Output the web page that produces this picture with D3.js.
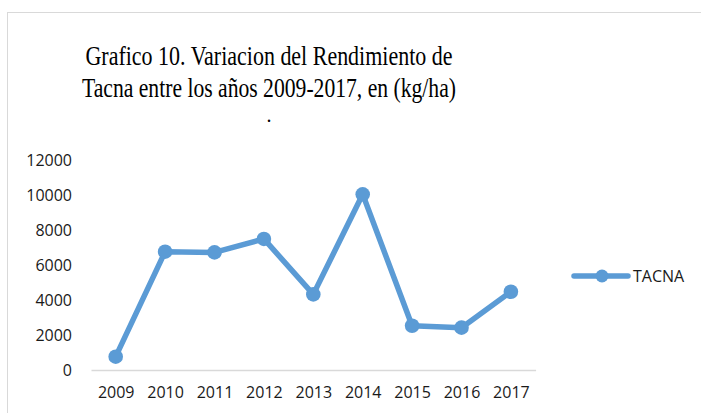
<!DOCTYPE html>
<html><head><meta charset="utf-8">
<script src="https://cdn.jsdelivr.net/npm/d3@7"></script>
<style>body{margin:0;background:#fff}svg{display:block}</style>
</head><body>
<svg id="c" width="701" height="413"></svg>
<script>
const years = ["2009","2010","2011","2012","2013","2014","2015","2016","2017"];
const tacna = [760, 6760, 6720, 7490, 4320, 10040, 2530, 2420, 4470];
const yTicks = [0, 2000, 4000, 6000, 8000, 10000, 12000];
const seriesName = "TACNA";
const titleLines = ["Grafico 10. Variacion del Rendimiento de", "Tacna entre los años 2009-2017, en (kg/ha)", "."];

const svg = d3.select("#c");
const color = "#5B9BD5";
const labelFont = "'Open Sans', sans-serif";

svg.append("rect").attr("x",7.5).attr("y",12.5).attr("width",720).attr("height",420)
  .attr("fill","#fff").attr("stroke","#d9d9d9").attr("stroke-width",1);

const titleY = [65, 97, 122];
const titleW = [367, 374, null];
const titleSize = [27, 27, 20];
titleLines.forEach((t,i)=>{
  const el = svg.append("text").attr("x",269).attr("y",titleY[i]).attr("text-anchor","middle")
    .attr("font-family","'Liberation Serif','Times New Roman',serif").attr("font-size",titleSize[i])
    .attr("fill","#000").text(t);
  if (titleW[i]) el.attr("textLength",titleW[i]).attr("lengthAdjust","spacingAndGlyphs");
});

const x = d3.scalePoint().domain(years).range([91,535.6]).padding(0.5);
const y = d3.scaleLinear().domain([0,12000]).range([370,160]);

// x axis
const xa = svg.append("g").attr("transform","translate(0,370)")
  .call(d3.axisBottom(x).tickSize(0).tickPadding(17));
xa.select(".domain").attr("stroke","#d9d9d9").attr("stroke-width",1.3);
xa.selectAll("text").attr("font-family",labelFont).attr("font-size",16).attr("fill","#1a1a1a");

// y axis (labels only)
const ya = svg.append("g").attr("transform","translate(72,0)")
  .call(d3.axisLeft(y).tickValues(yTicks).tickSize(0).tickPadding(0).tickFormat(d3.format("d")));
ya.select(".domain").remove();
ya.selectAll("text").attr("font-family",labelFont).attr("font-size",16).attr("fill","#1a1a1a");

const data = years.map((yr,i)=>({yr, v:tacna[i]}));
svg.append("path").datum(data)
  .attr("d", d3.line().x(d=>x(d.yr)).y(d=>y(d.v)))
  .attr("fill","none").attr("stroke",color).attr("stroke-width",5.5)
  .attr("stroke-linejoin","round").attr("stroke-linecap","round");
svg.selectAll("circle.pt").data(data).join("circle").attr("class","pt")
  .attr("cx",d=>x(d.yr)).attr("cy",d=>y(d.v)).attr("r",7.3).attr("fill",color);

// legend
const lg = svg.append("g");
lg.append("line").attr("x1",574).attr("x2",628).attr("y1",276).attr("y2",276)
  .attr("stroke",color).attr("stroke-width",5.5).attr("stroke-linecap","round");
lg.append("circle").attr("cx",602).attr("cy",276).attr("r",6.5).attr("fill",color);
lg.append("text").attr("x",633).attr("y",276).attr("dy","0.35em")
  .attr("font-family",labelFont).attr("font-size",16).attr("fill","#1a1a1a").text(seriesName);
</script>
</body></html>
